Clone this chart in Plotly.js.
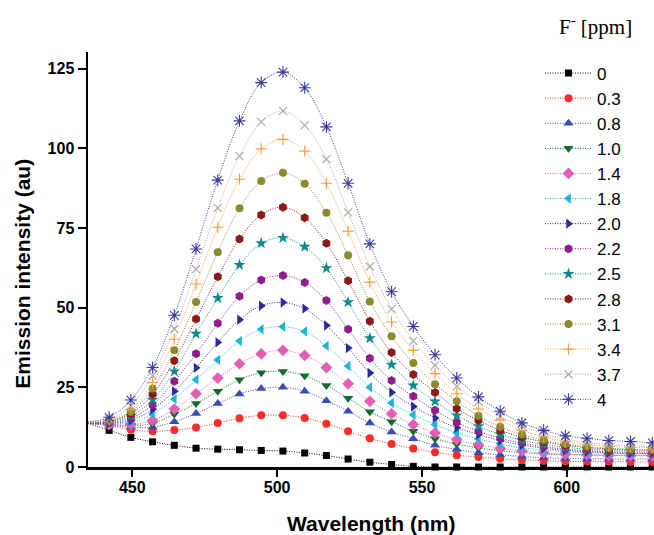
<!DOCTYPE html>
<html>
<head>
<meta charset="utf-8">
<script src="https://cdn.plot.ly/plotly-3.0.1.min.js"></script>
<style>
  html, body { margin: 0; padding: 0; background: #ffffff; }
  #chart { width: 654px; height: 535px; }
</style>
</head>
<body>
<div id="chart"></div>
<script>
// Wavelength (nm)
const wavelength = [434.5, 442, 449.5, 457, 464.5, 472, 479.5, 487, 494.5, 502, 509.5, 517, 524.5, 532, 539.5, 547, 554.5, 562, 569.5, 577, 584.5, 592, 599.5, 607, 614.5, 622, 629.5];

// Legend labels: fluoride concentration [ppm]
const seriesNames = ["0", "0.3", "0.8", "1.0", "1.4", "1.8", "2.0", "2.2", "2.5", "2.8", "3.1", "3.4", "3.7", "4"];

// Emission intensity (au) for each concentration
const f00 = [13.8, 11.5, 9.3, 7.9, 6.8, 5.9, 5.6, 5.4, 5.2, 5.0, 4.4, 3.6, 2.5, 1.5, 0.8, 0.2, 0, 0, 0, 0, 0, 0, 0, 0, 0, 0, 0];
const f03 = [13.6, 13.0, 11.7, 11.2, 11.6, 12.4, 13.8, 15.3, 16.2, 16.2, 15.4, 13.6, 11.2, 9.0, 7.2, 5.8, 4.6, 3.7, 3.1, 2.6, 2.2, 2.0, 1.8, 1.7, 1.7, 1.6, 1.6];
const f08 = [13.6, 13.2, 12.5, 12.5, 14.2, 16.8, 19.9, 22.9, 24.6, 25.0, 23.8, 20.8, 17.5, 13.8, 11.0, 8.9, 6.8, 5.5, 4.5, 3.8, 3.3, 2.9, 2.7, 2.6, 2.5, 2.5, 2.5];
const f10 = [13.7, 13.4, 13.0, 13.6, 16.6, 19.9, 23.8, 27.4, 29.6, 30.0, 28.6, 25.6, 21.6, 17.3, 14.2, 11.2, 8.9, 7.2, 6.0, 5.1, 4.5, 4.1, 3.9, 3.8, 3.7, 3.7, 3.6];
const f14 = [13.6, 13.3, 13.3, 14.6, 18.2, 23.0, 27.9, 32.4, 35.5, 36.6, 35.0, 31.2, 26.1, 20.6, 16.7, 13.3, 10.7, 8.6, 7.0, 5.9, 5.0, 4.4, 4.0, 3.8, 3.6, 3.5, 3.5];
const f18 = [13.7, 13.6, 14.0, 16.6, 21.3, 27.4, 33.6, 39.5, 43.2, 44.0, 42.5, 38.0, 31.7, 25.0, 20.1, 16.4, 13.3, 10.7, 8.8, 7.3, 6.1, 5.3, 4.8, 4.5, 4.3, 4.2, 4.1];
const f20 = [13.8, 13.8, 14.6, 18.1, 23.8, 31.1, 39.1, 46.2, 50.6, 51.6, 49.7, 44.4, 37.3, 29.5, 23.4, 19.0, 15.4, 12.3, 10.2, 8.3, 6.9, 5.9, 5.2, 4.8, 4.5, 4.3, 4.2];
const f22 = [13.8, 14.0, 15.3, 19.5, 26.9, 35.5, 45.1, 53.6, 58.7, 60.1, 57.9, 52.2, 43.2, 34.1, 27.1, 22.2, 17.8, 14.0, 11.2, 9.0, 7.5, 6.4, 5.6, 5.1, 4.8, 4.6, 4.5];
const f25 = [13.9, 14.2, 16.0, 21.1, 30.0, 41.8, 53.0, 63.4, 70.2, 71.9, 69.1, 62.4, 51.7, 40.4, 32.1, 25.6, 20.6, 16.2, 12.8, 10.2, 8.4, 7.1, 6.2, 5.6, 5.2, 5.0, 4.9];
const f28 = [13.9, 14.4, 16.7, 22.8, 33.3, 46.4, 59.7, 71.5, 79.1, 81.5, 78.2, 70.2, 58.4, 45.7, 35.9, 29.0, 23.4, 18.3, 14.6, 11.5, 9.4, 7.9, 6.8, 6.1, 5.6, 5.4, 5.2];
const f31 = [14.0, 14.6, 17.3, 24.6, 36.6, 51.8, 67.4, 81.2, 89.7, 92.3, 88.9, 79.8, 66.4, 51.9, 41.0, 32.6, 26.0, 20.6, 16.1, 12.6, 10.2, 8.4, 7.2, 6.4, 5.9, 5.6, 5.4];
const f34 = [14.0, 14.8, 18.0, 26.5, 40.1, 57.4, 75.2, 90.3, 99.8, 102.8, 99.1, 89.0, 74.0, 58.0, 45.5, 36.6, 29.3, 23.0, 18.2, 14.7, 11.5, 9.5, 8.0, 7.0, 6.5, 6.2, 6.0];
const f37 = [14.1, 15.0, 19.2, 28.7, 43.3, 62.1, 81.3, 97.5, 108.3, 111.7, 107.2, 96.6, 79.9, 62.9, 49.6, 39.6, 31.9, 25.3, 20.4, 15.9, 12.8, 10.5, 8.6, 7.7, 7.0, 6.6, 6.3];
const f40 = [14.2, 15.6, 21.0, 31.2, 47.6, 68.4, 90.0, 108.6, 120.6, 123.9, 119.0, 106.7, 89.0, 70.0, 55.0, 44.1, 35.2, 27.9, 22.0, 17.5, 13.8, 11.5, 9.8, 9.0, 8.3, 8.0, 7.6];

const seriesValues = [f00, f03, f08, f10, f14, f18, f20, f22, f25, f28, f31, f34, f37, f40];

// Styles
const colors = ["#000000", "#ff2a2a", "#3a4db4", "#156b2b", "#e45fb4", "#1ab6d6", "#2b2b96", "#8e1e8c", "#0f8a8a", "#8c1a1a", "#8a8a30", "#ff9a3c", "#a6a6a6", "#3a3a9e"];
const symbols = ["square", "circle", "triangle-up", "triangle-down", "diamond", "triangle-left", "triangle-right", "hexagon", "star", "hexagon", "circle", "cross-thin-open", "x-thin-open", "asterisk-open"];
const sizes = [7, 8, 9, 9, 9, 9, 9, 9, 9, 9, 8, 8, 8, 10];

const FONT = "Liberation Sans, Arial, sans-serif";

const traces = seriesNames.map((name, i) => {
  const open = symbols[i].endsWith("-open");
  return {
    type: "scatter",
    mode: "lines+markers",
    name: name,
    x: wavelength,
    y: seriesValues[i],
    cliponaxis: false,
    line: { color: colors[i], width: 1, dash: "1px,1.5px", shape: "spline", smoothing: 1 },
    marker: {
      symbol: symbols[i],
      size: sizes[i],
      color: colors[i],
      line: { color: colors[i], width: open ? 1.1 : 0 }
    }
  };
});

const plotTop = 52, plotBottom = 467.5, plotLeft = 88, plotRight = 654;
const ph = plotBottom - plotTop, pw = plotRight - plotLeft;

const layout = {
  width: 654,
  height: 535,
  margin: { l: plotLeft, r: 654 - plotRight, t: plotTop, b: 535 - plotBottom, pad: 0 },
  paper_bgcolor: "#ffffff",
  plot_bgcolor: "#ffffff",
  font: { family: FONT, color: "#000000" },
  showlegend: true,
  legend: {
    x: (540 - plotLeft) / pw,
    xanchor: "left",
    y: (plotBottom - 55.5) / ph,
    yanchor: "top",
    bgcolor: "rgba(0,0,0,0)",
    borderwidth: 0,
    font: { family: FONT, size: 17, color: "#000000" },
    itemwidth: 47,
    tracegroupgap: 0
  },
  xaxis: {
    range: [434.7, 630.1],
    tickmode: "array",
    tickvals: [450, 500, 550, 600],
    ticktext: ["450", "500", "550", "600"],
    ticks: "outside",
    ticklen: 7,
    tickwidth: 2,
    tickcolor: "#000000",
    ticklabelstandoff: -3,
    showline: true,
    linewidth: 2.5,
    linecolor: "#000000",
    showgrid: false,
    zeroline: false,
    tickfont: { family: FONT, size: 16, weight: "bold", color: "#000000" }
  },
  yaxis: {
    range: [0, 130.2],
    tickmode: "array",
    tickvals: [0, 25, 50, 75, 100, 125],
    ticktext: ["0", "25", "50", "75", "100", "125"],
    ticks: "outside",
    ticklen: 8,
    tickwidth: 2,
    tickcolor: "#000000",
    showline: true,
    linewidth: 2.5,
    linecolor: "#000000",
    showgrid: false,
    zeroline: false,
    tickfont: { family: FONT, size: 16, weight: "bold", color: "#000000" }
  },
  annotations: [
    {
      text: "Emission intensity (au)",
      xref: "paper", yref: "paper",
      x: (23 - plotLeft) / pw, y: (plotBottom - 274) / ph,
      xanchor: "center", yanchor: "middle",
      textangle: -90,
      showarrow: false,
      font: { family: FONT, size: 21, weight: "bold", color: "#000000" }
    },
    {
      text: "Wavelength (nm)",
      xref: "paper", yref: "paper",
      x: (371 - plotLeft) / pw, y: (plotBottom - 524) / ph,
      xanchor: "center", yanchor: "middle",
      showarrow: false,
      font: { family: FONT, size: 21, weight: "bold", color: "#000000" }
    },
    {
      text: "F<sup>-</sup> [ppm]",
      xref: "paper", yref: "paper",
      x: (595 - plotLeft) / pw, y: (plotBottom - 25) / ph,
      xanchor: "center", yanchor: "middle",
      showarrow: false,
      font: { family: "Liberation Serif, Times New Roman, serif", size: 21, color: "#000000" }
    }
  ]
};

Plotly.newPlot("chart", traces, layout, { staticPlot: true, displayModeBar: false });
</script>
</body>
</html>
